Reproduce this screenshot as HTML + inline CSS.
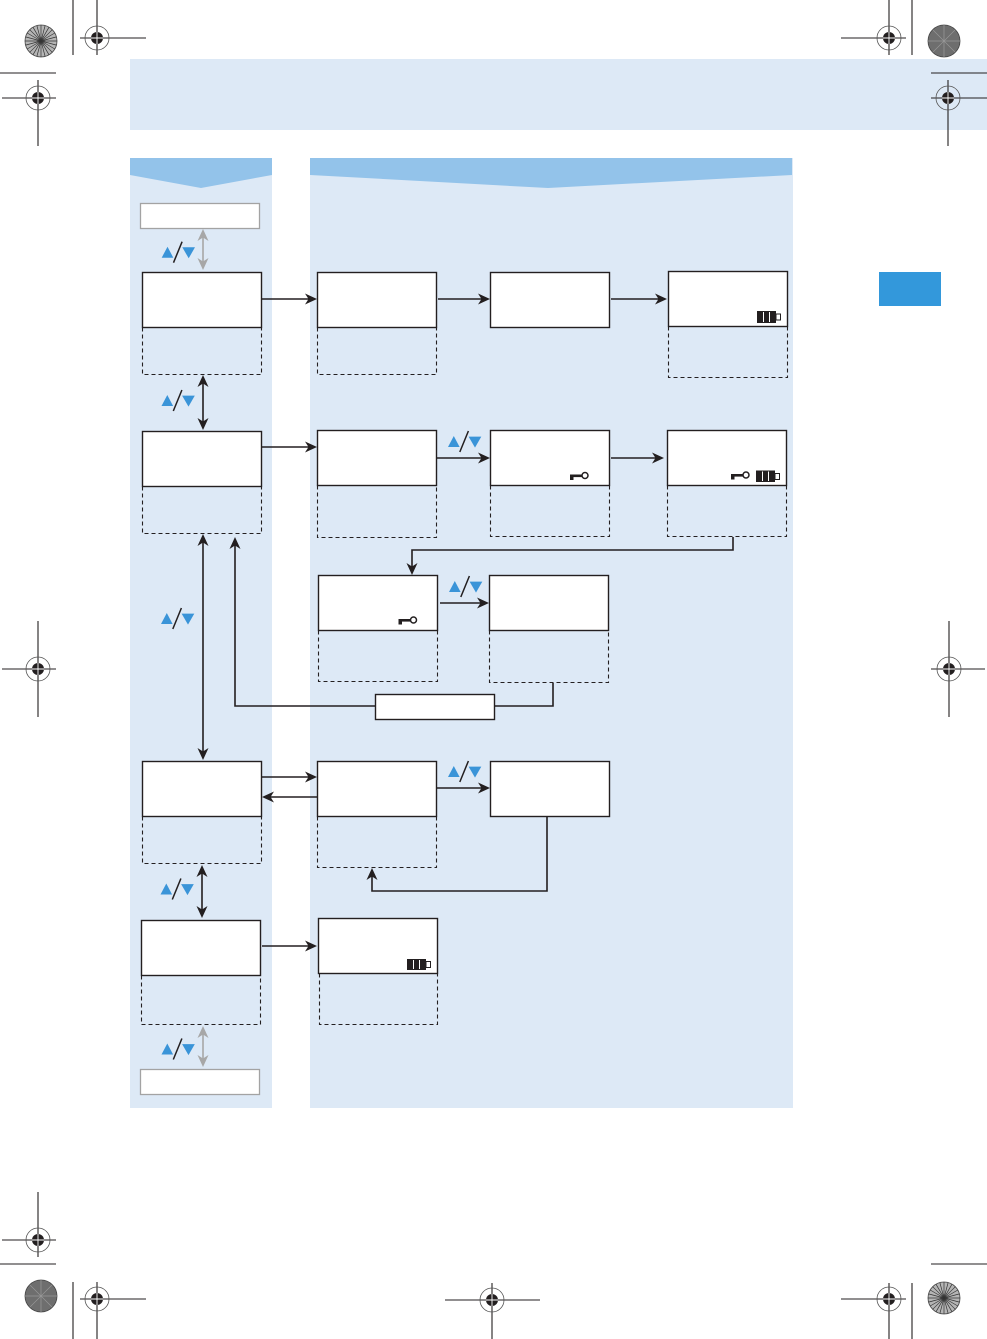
<!DOCTYPE html>
<html><head><meta charset="utf-8"><style>
html,body{margin:0;padding:0;background:#fff;}
svg{display:block;}
</style></head><body>
<svg width="987" height="1339" viewBox="0 0 987 1339" xmlns="http://www.w3.org/2000/svg">
<!-- backgrounds -->
<rect x="130" y="59" width="857" height="71" fill="#dde9f6"/>
<rect x="130" y="158" width="142" height="950" fill="#dde9f6"/>
<polygon points="130,158 272,158 272,175 201,188 130,175" fill="#93c3ea"/>
<rect x="310" y="158" width="483" height="950" fill="#dde9f6"/>
<polygon points="310,158 792,158 792,175 548,188 310,175" fill="#93c3ea"/>
<rect x="879" y="272" width="62" height="34" fill="#3398db"/>

<!-- dashed areas -->
<g fill="none" stroke="#231f20" stroke-width="1.1" stroke-dasharray="4,3">
<path d="M142.5,327.5 V374.5 H261.5 V327.5"/>
<path d="M142.5,486.5 V533.5 H261.5 V486.5"/>
<path d="M142.5,816.5 V863.5 H261.5 V816.5"/>
<path d="M141.5,975.5 V1024.5 H260.5 V975.5"/>
<path d="M317.5,327.5 V374.5 H436.5 V327.5"/>
<path d="M668.5,326.5 V377.5 H787.5 V326.5"/>
<path d="M317.5,485.5 V537.5 H436.5 V485.5"/>
<path d="M490.5,485.5 V536.5 H609.5 V485.5"/>
<path d="M667.5,485.5 V536.5 H786.5 V485.5"/>
<path d="M318.5,630.5 V681.5 H437.5 V630.5"/>
<path d="M489.5,630.5 V682.5 H608.5 V630.5"/>
<path d="M317.5,816.5 V867.5 H436.5 V816.5"/>
<path d="M319.5,973.5 V1024.5 H437.5 V973.5"/>
</g>

<!-- solid boxes -->
<g fill="#fff" stroke="#231f20" stroke-width="1.4">
<rect x="142.5" y="272.5" width="119" height="55"/>
<rect x="142.5" y="431.5" width="119" height="55"/>
<rect x="142.5" y="761.5" width="119" height="55"/>
<rect x="141.5" y="920.5" width="119" height="55"/>
<rect x="317.5" y="272.5" width="119" height="55"/>
<rect x="490.5" y="272.5" width="119" height="55"/>
<rect x="668.5" y="271.5" width="119" height="55"/>
<rect x="317.5" y="430.5" width="119" height="55"/>
<rect x="490.5" y="430.5" width="119" height="55"/>
<rect x="667.5" y="430.5" width="119" height="55"/>
<rect x="318.5" y="575.5" width="119" height="55"/>
<rect x="489.5" y="575.5" width="119" height="55"/>
<rect x="317.5" y="761.5" width="119" height="55"/>
<rect x="490.5" y="761.5" width="119" height="55"/>
<rect x="318.5" y="918.5" width="119" height="55"/>
<rect x="375.5" y="694.5" width="119" height="25"/>
</g>
<g fill="#fff" stroke="#a3a3a3" stroke-width="1.3">
<rect x="140.5" y="203.5" width="119" height="25"/>
<rect x="140.5" y="1069.5" width="119" height="25"/>
</g>

<!-- connector lines -->
<g fill="none" stroke="#231f20" stroke-width="1.6">
<path d="M262,299 H310"/>
<path d="M438,299 H483"/>
<path d="M611,299 H660"/>
<path d="M262,447 H310"/>
<path d="M437,458 H483"/>
<path d="M611,458 H657"/>
<path d="M733,537 V550 H412 V568"/>
<path d="M440,603 H482"/>
<path d="M203,382 V423"/>
<path d="M203,541 V753"/>
<path d="M375,706 H235 V544"/>
<path d="M494,706 H553 V683"/>
<path d="M262,777 H310"/>
<path d="M317,797 H269"/>
<path d="M437,788 H483"/>
<path d="M547,817 V891 H372 V875"/>
<path d="M202,872 V911"/>
<path d="M262,946 H310"/>
</g>
<g fill="none" stroke="#a7a7a7" stroke-width="1.6">
<path d="M203,236 V263"/>
<path d="M203,1033 V1060"/>
</g>

<!-- arrowheads -->
<g fill="#231f20">
<!-- right-pointing -->
<polygon points="317,299 305,293.5 308.5,299 305,304.5"/>
<polygon points="490,299 478,293.5 481.5,299 478,304.5"/>
<polygon points="667,299 655,293.5 658.5,299 655,304.5"/>
<polygon points="317,447 305,441.5 308.5,447 305,452.5"/>
<polygon points="490,458 478,452.5 481.5,458 478,463.5"/>
<polygon points="664,458 652,452.5 655.5,458 652,463.5"/>
<polygon points="489,603 477,597.5 480.5,603 477,608.5"/>
<polygon points="317,777 305,771.5 308.5,777 305,782.5"/>
<polygon points="490,788 478,782.5 481.5,788 478,793.5"/>
<polygon points="317,946 305,940.5 308.5,946 305,951.5"/>
<!-- left-pointing -->
<polygon points="262,797 274,791.5 270.5,797 274,802.5"/>
<!-- down -->
<polygon points="412,575 406.5,563 412,566.5 417.5,563"/>
<polygon points="203,430 197.5,418 203,421.5 208.5,418"/>
<polygon points="203,760 197.5,748 203,751.5 208.5,748"/>
<polygon points="202,918 196.5,906 202,909.5 207.5,906"/>
<!-- up -->
<polygon points="203,375 197.5,387 203,383.5 208.5,387"/>
<polygon points="203,534 197.5,546 203,542.5 208.5,546"/>
<polygon points="235,537 229.5,549 235,545.5 240.5,549"/>
<polygon points="372,868 366.5,880 372,876.5 377.5,880"/>
<polygon points="202,865 196.5,877 202,873.5 207.5,877"/>
</g>
<g fill="#a7a7a7">
<polygon points="203,229 197.5,241 203,237.5 208.5,241"/>
<polygon points="203,270 197.5,258 203,261.5 208.5,258"/>
<polygon points="203,1026 197.5,1038 203,1034.5 208.5,1038"/>
<polygon points="203,1067 197.5,1055 203,1058.5 208.5,1055"/>
</g>

<!-- up/down symbols -->
<g id="s1" transform="translate(161.7,241.7)">
<polygon points="0,16 5.8,5 11.6,16" fill="#3a94d8"/>
<line x1="11.8" y1="21" x2="20.4" y2="0" stroke="#231f20" stroke-width="1.5"/>
<polygon points="20.6,5.6 33.3,5.6 27,16.6" fill="#3a94d8"/>
</g>
<g transform="translate(161.5,390)">
<polygon points="0,16 5.8,5 11.6,16" fill="#3a94d8"/>
<line x1="11.8" y1="21" x2="20.4" y2="0" stroke="#231f20" stroke-width="1.5"/>
<polygon points="20.6,5.6 33.3,5.6 27,16.6" fill="#3a94d8"/>
</g>
<g transform="translate(161,608)">
<polygon points="0,16 5.8,5 11.6,16" fill="#3a94d8"/>
<line x1="11.8" y1="21" x2="20.4" y2="0" stroke="#231f20" stroke-width="1.5"/>
<polygon points="20.6,5.6 33.3,5.6 27,16.6" fill="#3a94d8"/>
</g>
<g transform="translate(160.5,878.5)">
<polygon points="0,16 5.8,5 11.6,16" fill="#3a94d8"/>
<line x1="11.8" y1="21" x2="20.4" y2="0" stroke="#231f20" stroke-width="1.5"/>
<polygon points="20.6,5.6 33.3,5.6 27,16.6" fill="#3a94d8"/>
</g>
<g transform="translate(161.5,1038.5)">
<polygon points="0,16 5.8,5 11.6,16" fill="#3a94d8"/>
<line x1="11.8" y1="21" x2="20.4" y2="0" stroke="#231f20" stroke-width="1.5"/>
<polygon points="20.6,5.6 33.3,5.6 27,16.6" fill="#3a94d8"/>
</g>
<g transform="translate(448,431)">
<polygon points="0,16 5.8,5 11.6,16" fill="#3a94d8"/>
<line x1="11.8" y1="21" x2="20.4" y2="0" stroke="#231f20" stroke-width="1.5"/>
<polygon points="20.6,5.6 33.3,5.6 27,16.6" fill="#3a94d8"/>
</g>
<g transform="translate(449,576)">
<polygon points="0,16 5.8,5 11.6,16" fill="#3a94d8"/>
<line x1="11.8" y1="21" x2="20.4" y2="0" stroke="#231f20" stroke-width="1.5"/>
<polygon points="20.6,5.6 33.3,5.6 27,16.6" fill="#3a94d8"/>
</g>
<g transform="translate(448,761)">
<polygon points="0,16 5.8,5 11.6,16" fill="#3a94d8"/>
<line x1="11.8" y1="21" x2="20.4" y2="0" stroke="#231f20" stroke-width="1.5"/>
<polygon points="20.6,5.6 33.3,5.6 27,16.6" fill="#3a94d8"/>
</g>

<!-- batteries -->
<g transform="translate(757,311)">
<rect x="0" y="0" width="19" height="12" fill="#231f20"/>
<line x1="6.5" y1="1" x2="6.5" y2="11" stroke="#fff" stroke-width="1"/>
<line x1="12.5" y1="1" x2="12.5" y2="11" stroke="#fff" stroke-width="1"/>
<rect x="19" y="3" width="4.5" height="6" fill="#fff" stroke="#231f20" stroke-width="1"/>
</g>
<g transform="translate(756,470.5)">
<rect x="0" y="0" width="19" height="11.5" fill="#231f20"/>
<line x1="6.5" y1="1" x2="6.5" y2="10.5" stroke="#fff" stroke-width="1"/>
<line x1="12.5" y1="1" x2="12.5" y2="10.5" stroke="#fff" stroke-width="1"/>
<rect x="19" y="3" width="4.5" height="6" fill="#fff" stroke="#231f20" stroke-width="1"/>
</g>
<g transform="translate(407,959)">
<rect x="0" y="0" width="19" height="11" fill="#231f20"/>
<line x1="6.5" y1="1" x2="6.5" y2="10" stroke="#fff" stroke-width="1"/>
<line x1="12.5" y1="1" x2="12.5" y2="10" stroke="#fff" stroke-width="1"/>
<rect x="19" y="2.5" width="4.5" height="6" fill="#fff" stroke="#231f20" stroke-width="1"/>
</g>

<!-- keys -->
<g transform="translate(570,471.5)">
<rect x="0" y="3" width="13" height="2.6" fill="#231f20"/>
<rect x="0" y="3" width="3.5" height="5.5" fill="#231f20"/>
<circle cx="15" cy="4" r="3" fill="#fff" stroke="#231f20" stroke-width="1.5"/>
</g>
<g transform="translate(731,471)">
<rect x="0" y="3" width="13" height="2.6" fill="#231f20"/>
<rect x="0" y="3" width="3.5" height="5.5" fill="#231f20"/>
<circle cx="15" cy="4" r="3" fill="#fff" stroke="#231f20" stroke-width="1.5"/>
</g>
<g transform="translate(398.5,616)">
<rect x="0" y="3" width="13" height="2.6" fill="#231f20"/>
<rect x="0" y="3" width="3.5" height="5.5" fill="#231f20"/>
<circle cx="15" cy="4" r="3" fill="#fff" stroke="#231f20" stroke-width="1.5"/>
</g>

<!-- registration / trim marks -->
<g stroke="#231f20" stroke-width="1.1" fill="none">
<line x1="73" y1="0" x2="73" y2="55"/>
<line x1="0" y1="73" x2="56" y2="73"/>
<line x1="912" y1="0" x2="912" y2="55"/>
<line x1="931" y1="73" x2="987" y2="73"/>
<line x1="0" y1="1264" x2="56" y2="1264"/>
<line x1="73" y1="1282" x2="73" y2="1339"/>
<line x1="912" y1="1283" x2="912" y2="1339"/>
<line x1="931" y1="1264" x2="987" y2="1264"/>
<!-- crosshair lines -->
<line x1="80" y1="38" x2="146" y2="38"/><line x1="97" y1="0" x2="97" y2="55"/>
<line x1="2" y1="98" x2="56" y2="98"/><line x1="38" y1="80" x2="38" y2="146"/>
<line x1="841" y1="38" x2="906" y2="38"/><line x1="889" y1="0" x2="889" y2="55"/>
<line x1="931" y1="98" x2="987" y2="98"/><line x1="948" y1="80" x2="948" y2="146"/>
<line x1="2" y1="669" x2="56" y2="669"/><line x1="38" y1="621" x2="38" y2="717"/>
<line x1="931" y1="669" x2="985" y2="669"/><line x1="949" y1="621" x2="949" y2="717"/>
<line x1="2" y1="1240" x2="56" y2="1240"/><line x1="38" y1="1192" x2="38" y2="1257"/>
<line x1="80" y1="1299" x2="146" y2="1299"/><line x1="97" y1="1282" x2="97" y2="1339"/>
<line x1="445" y1="1300" x2="540" y2="1300"/><line x1="492" y1="1283" x2="492" y2="1339"/>
<line x1="841" y1="1299" x2="906" y2="1299"/><line x1="889" y1="1283" x2="889" y2="1339"/>
</g>
<g stroke="#555" stroke-width="0.8" fill="none">
<circle cx="97" cy="38" r="12"/><circle cx="38" cy="98" r="12"/>
<circle cx="889" cy="38" r="12"/><circle cx="948" cy="98" r="12"/>
<circle cx="38" cy="669" r="12"/><circle cx="949" cy="669" r="12"/>
<circle cx="38" cy="1240" r="12"/><circle cx="97" cy="1299" r="12"/>
<circle cx="492" cy="1300" r="12"/><circle cx="889" cy="1299" r="12"/>
</g>
<g fill="#231f20">
<circle cx="97" cy="38" r="6"/><circle cx="38" cy="98" r="6"/>
<circle cx="889" cy="38" r="6"/><circle cx="948" cy="98" r="6"/>
<circle cx="38" cy="669" r="6"/><circle cx="949" cy="669" r="6"/>
<circle cx="38" cy="1240" r="6"/><circle cx="97" cy="1299" r="6"/>
<circle cx="492" cy="1300" r="6"/><circle cx="889" cy="1299" r="6"/>
</g>
<g stroke="#fff" stroke-width="0.9">
<path d="M91,38h12M97,32v12"/><path d="M32,98h12M38,92v12"/>
<path d="M883,38h12M889,32v12"/><path d="M942,98h12M948,92v12"/>
<path d="M32,669h12M38,663v12"/><path d="M943,669h12M949,663v12"/>
<path d="M32,1240h12M38,1234v12"/><path d="M91,1299h12M97,1293v12"/>
<path d="M486,1300h12M492,1294v12"/><path d="M883,1299h12M889,1293v12"/>
</g>

<!-- starbursts -->
<g transform="translate(41,41)">
<circle r="16" fill="#b5b5b5" stroke="#444" stroke-width="0.8"/>
<g stroke="#333" stroke-width="0.7">
<line x1="-16" y1="0" x2="16" y2="0"/><line x1="-15.45" y1="-4.14" x2="15.45" y2="4.14"/>
<line x1="-13.86" y1="-8" x2="13.86" y2="8"/><line x1="-11.31" y1="-11.31" x2="11.31" y2="11.31"/>
<line x1="-8" y1="-13.86" x2="8" y2="13.86"/><line x1="-4.14" y1="-15.45" x2="4.14" y2="15.45"/>
<line x1="0" y1="-16" x2="0" y2="16"/><line x1="4.14" y1="-15.45" x2="-4.14" y2="15.45"/>
<line x1="8" y1="-13.86" x2="-8" y2="13.86"/><line x1="11.31" y1="-11.31" x2="-11.31" y2="11.31"/>
<line x1="13.86" y1="-8" x2="-13.86" y2="8"/><line x1="15.45" y1="-4.14" x2="-15.45" y2="4.14"/>
</g></g>
<g transform="translate(944,1298)">
<circle r="16" fill="#b5b5b5" stroke="#444" stroke-width="0.8"/>
<g stroke="#333" stroke-width="0.7">
<line x1="-16" y1="0" x2="16" y2="0"/><line x1="-15.45" y1="-4.14" x2="15.45" y2="4.14"/>
<line x1="-13.86" y1="-8" x2="13.86" y2="8"/><line x1="-11.31" y1="-11.31" x2="11.31" y2="11.31"/>
<line x1="-8" y1="-13.86" x2="8" y2="13.86"/><line x1="-4.14" y1="-15.45" x2="4.14" y2="15.45"/>
<line x1="0" y1="-16" x2="0" y2="16"/><line x1="4.14" y1="-15.45" x2="-4.14" y2="15.45"/>
<line x1="8" y1="-13.86" x2="-8" y2="13.86"/><line x1="11.31" y1="-11.31" x2="-11.31" y2="11.31"/>
<line x1="13.86" y1="-8" x2="-13.86" y2="8"/><line x1="15.45" y1="-4.14" x2="-15.45" y2="4.14"/>
</g></g>
<g transform="translate(944,41)">
<circle r="16" fill="#6e6e6e" stroke="#444" stroke-width="0.8"/>
<g stroke="#9a9a9a" stroke-width="0.7">
<line x1="-16" y1="0" x2="16" y2="0"/><line x1="-11.31" y1="-11.31" x2="11.31" y2="11.31"/>
<line x1="0" y1="-16" x2="0" y2="16"/><line x1="11.31" y1="-11.31" x2="-11.31" y2="11.31"/>
</g></g>
<g transform="translate(41,1296)">
<circle r="16" fill="#6e6e6e" stroke="#444" stroke-width="0.8"/>
<g stroke="#9a9a9a" stroke-width="0.7">
<line x1="-16" y1="0" x2="16" y2="0"/><line x1="-11.31" y1="-11.31" x2="11.31" y2="11.31"/>
<line x1="0" y1="-16" x2="0" y2="16"/><line x1="11.31" y1="-11.31" x2="-11.31" y2="11.31"/>
</g></g>
</svg>
</body></html>
